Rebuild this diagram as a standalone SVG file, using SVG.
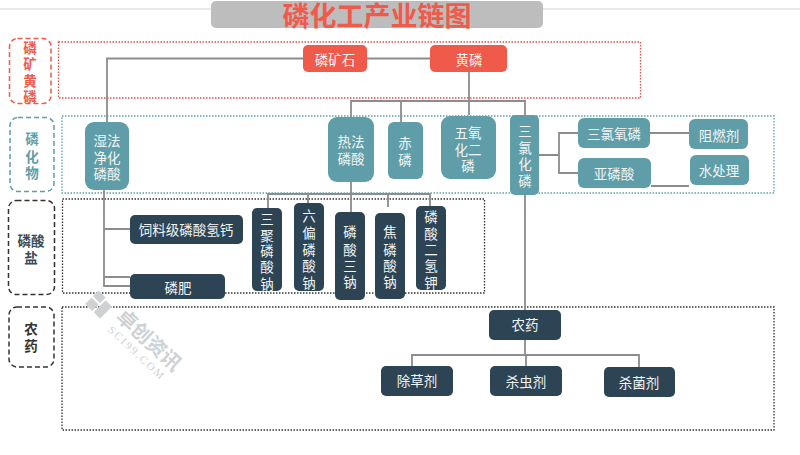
<svg xmlns="http://www.w3.org/2000/svg" width="800" height="455" viewBox="0 0 800 455">
<style>
text{font-family:"Noto Sans CJK SC","Liberation Sans",sans-serif;text-anchor:middle;dominant-baseline:central}
.n text{fill:#f2f5f6;font-size:13.500px}
.red rect{fill:#f05a4b}
.teal rect{fill:#5f9ea9}
.dark rect{fill:#2d4454}
.side rect{fill:none;stroke-width:1.5;stroke-dasharray:5 3}
.side text{font-size:13.500px;font-weight:700}
.zone{fill:none;stroke-width:1.3;stroke-dasharray:1.5 1.5}
#connectors path{fill:none;stroke:#8c8c8c;stroke-width:1.8}
</style>
<rect width="800" height="455" fill="#fff"/>
<path d="M0 9H211M543 9H800" stroke="#e8e8e8" stroke-width="2" fill="none"/>
<g id="title"><rect x="211" y="1" width="332" height="27" rx="5" fill="#bdbdbd"/><text x="377" y="14.500" font-size="27" font-weight="700" fill="#f05a4b">磷化工产业链图</text></g>

<rect class="zone" x="58.500" y="42" width="582" height="56" stroke="#d9534a"/>
<rect class="zone" x="62" y="116" width="712" height="77" stroke="#5f9ea9"/>
<rect class="zone" x="62.500" y="199" width="422" height="94" stroke="#333"/>
<rect class="zone" x="62" y="307" width="712" height="123" stroke="#333"/>

<g id="side1" class="side"><rect x="9.500" y="38.500" width="41.500" height="65" rx="8" stroke="#f05a4b"/><text fill="#f05a4b"><tspan x="30" y="47">磷</tspan><tspan x="30" y="63">矿</tspan><tspan x="30" y="80">黄</tspan><tspan x="30" y="96">磷</tspan></text></g>
<g id="side2" class="side"><rect x="10" y="117.500" width="44" height="74" rx="8" stroke="#5f9ea9"/><text fill="#5f9ea9"><tspan x="32" y="138">磷</tspan><tspan x="32" y="156">化</tspan><tspan x="32" y="172">物</tspan></text></g>
<g id="side3" class="side"><rect x="8.500" y="200.500" width="46" height="94" rx="8" stroke="#333"/><text fill="#3b4a55"><tspan x="31" y="240">磷酸</tspan><tspan x="31" y="257">盐</tspan></text></g>
<g id="side4" class="side"><rect x="9" y="307" width="45" height="60" rx="8" stroke="#333"/><text fill="#333"><tspan x="31" y="328">农</tspan><tspan x="31" y="345">药</tspan></text></g>

<g id="connectors">
<path d="M303 58.500H107V122M367 58.500H430M469 72V115M351 117V101H525V115M401 101V122"/>
<path d="M104 190V286H130M104 229H130M104 277H130"/>
<path d="M351 182V212M268 208V194H430V206M308 194V203M388 194V207"/>
<path d="M525 195V310M539 155H559M578 133H559V173H578M650 133H689M651 186H689"/>
<path d="M525 340V355M412 366V355H639V367M526 355V366"/>
</g>

<g id="watermark" fill="#cfd2d4">
<g transform="rotate(45 100 306)"><rect x="88" y="296" width="10" height="8"/><rect x="88" y="306" width="10" height="9"/><rect x="100" y="298" width="9" height="17"/></g>
<text transform="translate(150 339) rotate(43)" font-size="20" font-weight="700">卓创资讯</text>
<text transform="translate(137 353) rotate(43)" font-size="11" style="font-family:'Liberation Serif',serif" letter-spacing="2">SCI99.COM</text>
</g>

<g id="n1" class="n red"><rect x="303" y="45" width="64" height="27" rx="5"/><text x="335" y="58.500">磷矿石</text></g>
<g id="n2" class="n red"><rect x="430" y="45" width="77" height="27" rx="5"/><text x="469" y="58.500">黄磷</text></g>

<g id="n3" class="n teal"><rect x="85" y="122" width="44" height="68" rx="9"/><text><tspan x="107" y="140">湿法</tspan><tspan x="107" y="156.500">净化</tspan><tspan x="107" y="173">磷酸</tspan></text></g>
<g id="n4" class="n teal"><rect x="328" y="117" width="46" height="65" rx="9"/><text><tspan x="351" y="141">热法</tspan><tspan x="351" y="158">磷酸</tspan></text></g>
<g id="n5" class="n teal"><rect x="388" y="122" width="35" height="57" rx="6"/><text><tspan x="405" y="142">赤</tspan><tspan x="405" y="159">磷</tspan></text></g>
<g id="n6" class="n teal"><rect x="441" y="116" width="55" height="63" rx="9"/><text><tspan x="468" y="132">五氧</tspan><tspan x="468" y="149">化二</tspan><tspan x="468" y="165">磷</tspan></text></g>
<g id="n7" class="n teal"><rect x="510" y="115" width="29" height="80" rx="5"/><text><tspan x="525" y="130">三</tspan><tspan x="525" y="147">氯</tspan><tspan x="525" y="163">化</tspan><tspan x="525" y="180">磷</tspan></text></g>
<g id="n8" class="n teal"><rect x="578" y="118" width="72" height="30" rx="6"/><text x="614" y="133">三氯氧磷</text></g>
<g id="n9" class="n teal"><rect x="578" y="158" width="73" height="30" rx="6"/><text x="614" y="173">亚磷酸</text></g>
<g id="n10" class="n teal"><rect x="689" y="119" width="59" height="30" rx="6"/><text x="719" y="135">阻燃剂</text></g>
<g id="n11" class="n teal"><rect x="690" y="155" width="59" height="30" rx="6"/><text x="719" y="170">水处理</text></g>

<g id="n12" class="n dark"><rect x="130" y="215" width="113" height="29" rx="5"/><text x="186" y="229">饲料级磷酸氢钙</text></g>
<g id="n13" class="n dark"><rect x="130" y="274" width="95" height="25" rx="5"/><text x="178" y="287">磷肥</text></g>
<g id="n14" class="n dark"><rect x="252" y="208" width="30" height="83" rx="5"/><text><tspan x="267" y="218">三</tspan><tspan x="267" y="234.500">聚</tspan><tspan x="267" y="250">磷</tspan><tspan x="267" y="266">酸</tspan><tspan x="267" y="283">钠</tspan></text></g>
<g id="n15" class="n dark"><rect x="294" y="203" width="30" height="88" rx="5"/><text><tspan x="309" y="215">六</tspan><tspan x="309" y="232">偏</tspan><tspan x="309" y="249">磷</tspan><tspan x="309" y="265">酸</tspan><tspan x="309" y="282">钠</tspan></text></g>
<g id="n16" class="n dark"><rect x="335" y="212" width="30" height="88" rx="5"/><text><tspan x="350" y="231">磷</tspan><tspan x="350" y="249">酸</tspan><tspan x="350" y="265">三</tspan><tspan x="350" y="281">钠</tspan></text></g>
<g id="n17" class="n dark"><rect x="375" y="213" width="30" height="86" rx="5"/><text><tspan x="390" y="231">焦</tspan><tspan x="390" y="249">磷</tspan><tspan x="390" y="265">酸</tspan><tspan x="390" y="281">钠</tspan></text></g>
<g id="n18" class="n dark"><rect x="416" y="206" width="30" height="84" rx="5"/><text><tspan x="431" y="216">磷</tspan><tspan x="431" y="233">酸</tspan><tspan x="431" y="249">二</tspan><tspan x="431" y="265">氢</tspan><tspan x="431" y="282">钾</tspan></text></g>

<g id="n19" class="n dark"><rect x="489" y="310" width="72" height="30" rx="5"/><text x="525" y="324">农药</text></g>
<g id="n20" class="n dark"><rect x="381" y="366" width="72" height="30" rx="5"/><text x="417" y="380">除草剂</text></g>
<g id="n21" class="n dark"><rect x="490" y="366" width="72" height="30" rx="5"/><text x="526" y="381">杀虫剂</text></g>
<g id="n22" class="n dark"><rect x="604" y="367" width="71" height="30" rx="5"/><text x="639" y="382">杀菌剂</text></g>
</svg>
